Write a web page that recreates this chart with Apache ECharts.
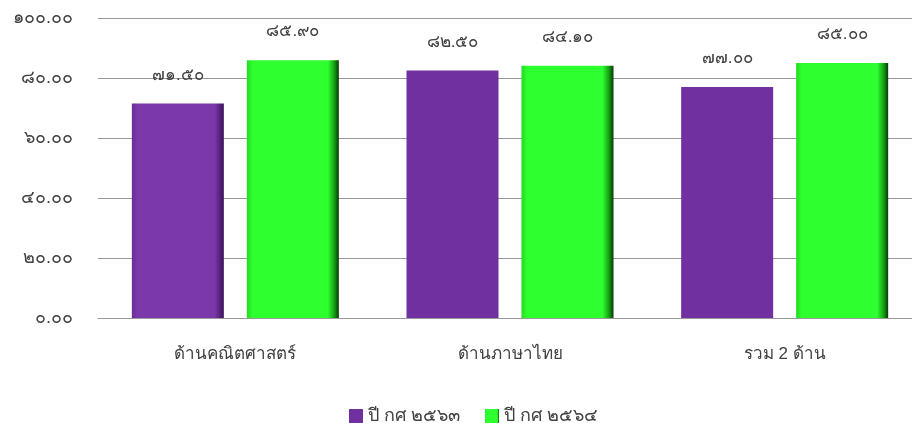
<!DOCTYPE html>
<html><head><meta charset="utf-8">
<script src="https://cdn.jsdelivr.net/npm/echarts@6/dist/echarts.min.js"></script>
<style>html,body{margin:0;padding:0;background:#fff;overflow:hidden}#c{width:922px;height:423px}</style>
</head><body><div id="c"></div>
<script>
const categories = ['ด้านคณิตศาสตร์', 'ด้านภาษาไทย', 'รวม 2 ด้าน'];
const seriesNames = ['ปี กศ ๒๕๖๓', 'ปี กศ ๒๕๖๔'];
const values2563 = [71.50, 82.50, 77.00];
const values2564 = [85.90, 84.10, 85.00];
const yTicks = [0, 20, 40, 60, 80, 100];

const thaiDigits = '๐๑๒๓๔๕๖๗๘๙';
function toThai(s){ return String(s).replace(/[0-9]/g, d => thaiDigits[+d]); }
function fmt(v){ return toThai(Number(v).toFixed(2)); }

const purpleFlat = '#7030A0';
const purpleBevel = {type:'linear',x:0,y:0,x2:1,y2:0,colorStops:[
  {offset:0,color:'#6a2d98'},{offset:0.06,color:'#7a38aa'},{offset:0.9,color:'#7a38aa'},{offset:1,color:'#3a1258'}]};
const greenBevel = {type:'linear',x:0,y:0,x2:1,y2:0,colorStops:[
  {offset:0,color:'#22d822'},{offset:0.06,color:'#2eff2e'},{offset:0.88,color:'#2eff2e'},{offset:0.95,color:'#14a014'},{offset:1,color:'#063a06'}]};

const purpleData = values2563.map((v,i)=>({value:v,itemStyle:{color: i===0 ? purpleBevel : purpleFlat}}));
const greenData = values2564.map(v=>({value:v}));

const chart = echarts.init(document.getElementById('c'));
const labelStyle = {show:true,position:'top',distance:20,color:'#404040',fontSize:17,fontFamily:'sans-serif',formatter:p=>fmt(p.value)};
chart.setOption({
  animation:false,
  grid:{left:98,top:18,right:0,height:300},
  legend:{top:402,left:344,itemWidth:14,itemHeight:14,itemGap:25,textStyle:{fontSize:18,color:'#404040',fontFamily:'sans-serif'},
    data:[{name:seriesNames[0],icon:'rect'},{name:seriesNames[1],icon:'rect'}]},
  xAxis:{type:'category',data:categories,axisTick:{show:false},axisLine:{lineStyle:{color:'#999'}},
    axisLabel:{margin:28,fontSize:17,color:'#404040',fontFamily:'sans-serif'}},
  yAxis:{type:'value',min:0,max:100,interval:20,axisLine:{show:false},axisTick:{show:false},
    splitLine:{lineStyle:{color:'#999'}},
    axisLabel:{margin:25,fontSize:18,color:'#404040',fontFamily:'sans-serif',formatter:v=>fmt(v)}},
  series:[
    {name:seriesNames[0],type:'bar',barWidth:92,barGap:'25%',data:purpleData,itemStyle:{color:purpleFlat},label:labelStyle},
    {name:seriesNames[1],type:'bar',barWidth:92,data:greenData,itemStyle:{color:greenBevel},label:labelStyle}
  ]
});
</script></body></html>
